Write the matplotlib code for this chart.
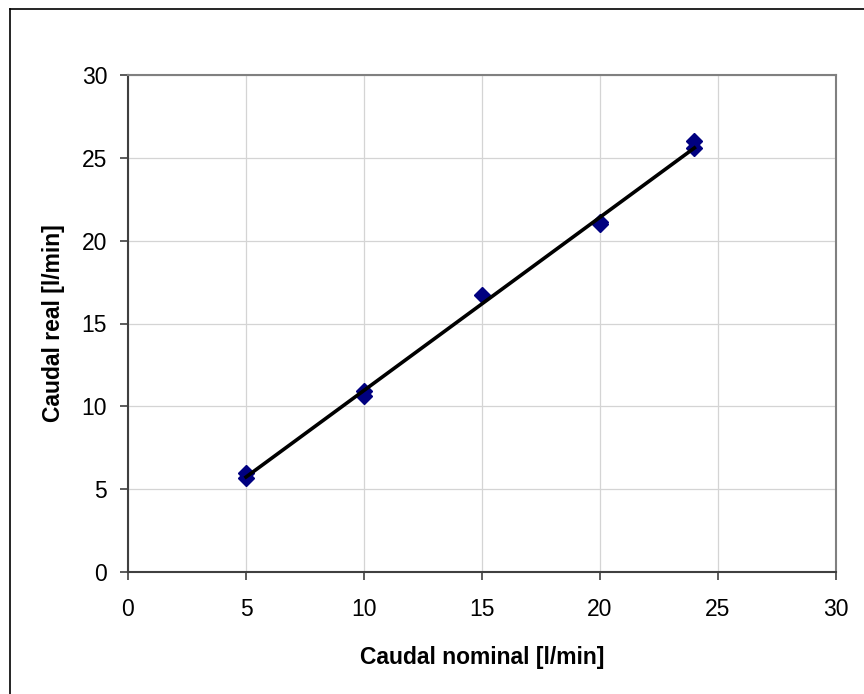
import numpy as np
import matplotlib
matplotlib.use('Agg')
from matplotlib import pyplot as plt
from matplotlib.lines import Line2D

caudal_nominal = [5, 5, 10, 10, 15, 20, 20, 24, 24]
caudal_real = [5.65, 6.0, 10.6, 10.95, 16.7, 21.0, 21.1, 25.6, 26.0]
x_ticks = [0, 5, 10, 15, 20, 25, 30]
y_ticks = [0, 5, 10, 15, 20, 25, 30]

plt.rcParams['font.family'] = ['Liberation Sans', 'DejaVu Sans']

fig = plt.figure(figsize=(8.64, 6.94), dpi=100)
ax = fig.add_axes([128/864, 1-572/694, (836-128)/864, (572-75)/694])

# linear fit through the measurements
slope, intercept = np.polyfit(caudal_nominal, caudal_real, 1)
xf = np.array([min(caudal_nominal), max(caudal_nominal)])

ax.plot(caudal_nominal, caudal_real, linestyle='none', marker='D',
        markersize=8, color='#000080', zorder=3)
ax.plot(xf, slope*xf + intercept, color='black', linewidth=2.6, zorder=4)

ax.set_xlim(0, 30)
ax.set_ylim(0, 30)
ax.set_xticks(x_ticks)
ax.set_yticks(y_ticks)
ax.grid(True, color='#d4d4d4', linewidth=0.9)
ax.set_axisbelow(True)

for s in ['top', 'right']:
    ax.spines[s].set_color('#808080')
    ax.spines[s].set_linewidth(1.5)
for s in ['left', 'bottom']:
    ax.spines[s].set_color('#404040')
    ax.spines[s].set_linewidth(1.5)

ax.tick_params(axis='both', direction='out', length=6, width=1.2,
               color='#404040', labelsize=16.5)
ax.tick_params(axis='x', pad=13)
ax.tick_params(axis='y', pad=9)

ax.set_xlabel('Caudal nominal [l/min]', fontsize=16.5, fontweight='bold', labelpad=18)
ax.set_ylabel('Caudal real [l/min]', fontsize=16.5, fontweight='bold', labelpad=12)

# outer chart border (cropped on the right and bottom)
fig.add_artist(Line2D([10/864, 10/864], [0, 1-9/694], transform=fig.transFigure,
                      color='black', linewidth=1.2))
fig.add_artist(Line2D([10/864, 1], [1-9/694, 1-9/694], transform=fig.transFigure,
                      color='black', linewidth=1.2))

fig.savefig('out.png', dpi=100)
